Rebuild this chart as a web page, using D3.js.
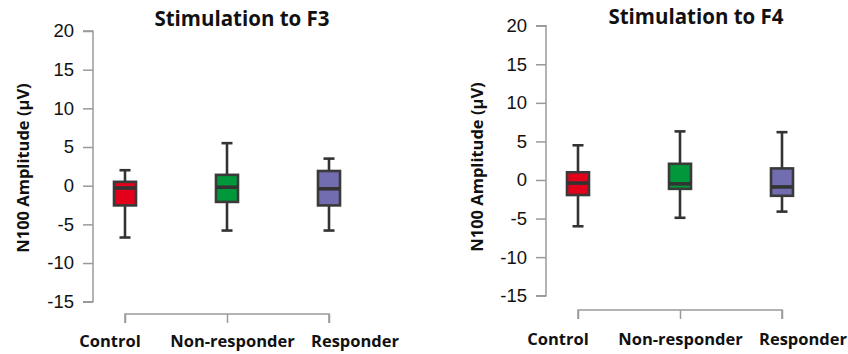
<!DOCTYPE html>
<html>
<head>
<meta charset="utf-8">
<script src="https://cdn.jsdelivr.net/npm/d3@7"></script>
<style>
  body { margin: 0; background: #fff; }
  svg { display: block; }
</style>
</head>
<body>
<div id="chart"></div>
<script>
// groups and y ticks
const groups = ["Control", "Non-responder", "Responder"];
const groupColors = ["#e2001a", "#00983a", "#716db0"];
const yTicks = [20, 15, 10, 5, 0, -5, -10, -15];

// Stimulation to F3: whisker low, Q1, median, Q3, whisker high
const f3Low    = [-6.7, -5.8, -5.8];
const f3Q1     = [-2.55, -2.1, -2.55];
const f3Median = [-0.3, -0.2, -0.4];
const f3Q3     = [0.5, 1.4, 1.9];
const f3High   = [2.0, 5.5, 3.5];

// Stimulation to F4
const f4Low    = [-6.0, -4.9, -4.1];
const f4Q1     = [-1.95, -1.15, -2.05];
const f4Median = [-0.4, -0.5, -0.9];
const f4Q3     = [1.0, 2.1, 1.5];
const f4High   = [4.5, 6.3, 6.2];

const svg = d3.select("#chart")
  .append("svg")
    .attr("width", 848)
    .attr("height", 354);

function drawPanel(opt) {
  const g = svg.append("g");

  const y = d3.scaleLinear()
    .domain([-15, 20])
    .range([opt.yBottom, opt.yTop]);

  const x = d3.scalePoint()
    .domain(groups)
    .range([opt.xFirst, opt.xLast]);

  // category labels sit a little wider apart than the ticks
  const xLabel = d3.scalePoint()
    .domain(groups)
    .range([opt.labelFirst, opt.labelLast]);

  // y axis
  const yAxis = g.append("g")
    .attr("transform", `translate(${opt.axisX},0)`)
    .call(d3.axisLeft(y).tickValues(yTicks).tickSize(10).tickPadding(9).tickFormat(d3.format("d")));
  yAxis.select(".domain")
    .attr("stroke", "#9a9a9a")
    .attr("stroke-width", 1.5)
    .attr("d", `M-10,${y(20)}H0V${y(-15)}H-10`);
  yAxis.selectAll(".tick line").attr("stroke", "#9a9a9a").attr("stroke-width", 1.5);
  yAxis.selectAll(".tick text")
    .attr("fill", "#111")
    .attr("font-family", "'Liberation Sans', Arial, sans-serif")
    .attr("font-size", "18.5px")
    .text(d => d < 0 ? "-" + Math.abs(d) : d);

  // x axis bracket
  const xAxis = g.append("g")
    .attr("transform", `translate(0,${opt.xAxisY})`)
    .call(d3.axisBottom(x).tickSizeInner(9).tickSizeOuter(0).tickFormat(""));
  xAxis.select(".domain")
    .attr("stroke", "#9a9a9a")
    .attr("stroke-width", 1.5)
    .attr("d", `M${opt.xFirst},9V0H${opt.xLast}V9`);
  xAxis.selectAll(".tick line").attr("stroke", "#9a9a9a").attr("stroke-width", 1.5);

  g.selectAll(".xlabel")
    .data(groups)
    .join("text")
      .attr("class", "xlabel")
      .attr("x", d => xLabel(d))
      .attr("y", opt.labelBaseline)
      .attr("text-anchor", "middle")
      .attr("fill", "#111")
      .attr("font-family", "'Open Sans', sans-serif")
      .attr("font-weight", "bold")
      .attr("font-size", "16.5px")
      .text(d => d);

  const boxData = groups.map((d, i) => ({
    group: d,
    color: groupColors[i],
    low: opt.low[i], q1: opt.q1[i], median: opt.median[i], q3: opt.q3[i], high: opt.high[i]
  }));

  const boxW = 22, capW = 11;
  const box = g.selectAll(".box")
    .data(boxData)
    .join("g")
      .attr("class", "box");

  // whiskers
  box.append("line")
    .attr("x1", d => x(d.group)).attr("x2", d => x(d.group))
    .attr("y1", d => y(d.high)).attr("y2", d => y(d.low))
    .attr("stroke", "#333").attr("stroke-width", 2.6);
  box.selectAll(".cap")
    .data(d => [d.low, d.high].map(v => ({group: d.group, v: v})))
    .join("line")
      .attr("class", "cap")
      .attr("x1", d => x(d.group) - capW / 2).attr("x2", d => x(d.group) + capW / 2)
      .attr("y1", d => y(d.v)).attr("y2", d => y(d.v))
      .attr("stroke", "#333").attr("stroke-width", 2.6);

  // box
  box.append("rect")
    .attr("x", d => x(d.group) - boxW / 2)
    .attr("y", d => y(d.q3))
    .attr("width", boxW)
    .attr("height", d => y(d.q1) - y(d.q3))
    .attr("fill", d => d.color)
    .attr("stroke", "#3a3a3a")
    .attr("stroke-width", 2.6);

  // median
  box.append("line")
    .attr("x1", d => x(d.group) - boxW / 2).attr("x2", d => x(d.group) + boxW / 2)
    .attr("y1", d => y(d.median)).attr("y2", d => y(d.median))
    .attr("stroke", "#333").attr("stroke-width", 3.6);

  // title
  g.append("text")
    .attr("x", opt.titleX)
    .attr("y", opt.titleY)
    .attr("text-anchor", "middle")
    .attr("font-family", "'Open Sans', sans-serif")
    .attr("font-weight", "bold")
    .attr("font-size", "20.5px")
    .attr("fill", "#111")
    .text(opt.title);

  // y label
  g.append("text")
    .attr("transform", `translate(${opt.yLabelX},${opt.yLabelY})rotate(-90)`)
    .attr("text-anchor", "middle")
    .attr("font-family", "'Open Sans', sans-serif")
    .attr("font-weight", "bold")
    .attr("font-size", "16.5px")
    .attr("fill", "#111")
    .text("N100 Amplitude (µV)");
}

drawPanel({
  title: "Stimulation to F3",
  low: f3Low, q1: f3Q1, median: f3Median, q3: f3Q3, high: f3High,
  axisX: 93, yTop: 31, yBottom: 301.7,
  xFirst: 125, xLast: 329, xAxisY: 314,
  labelFirst: 110, labelLast: 355, labelBaseline: 347,
  titleX: 242, titleY: 26, yLabelX: 29, yLabelY: 168
});

drawPanel({
  title: "Stimulation to F4",
  low: f4Low, q1: f4Q1, median: f4Median, q3: f4Q3, high: f4High,
  axisX: 546, yTop: 25.7, yBottom: 295.7,
  xFirst: 578, xLast: 782, xAxisY: 310,
  labelFirst: 558, labelLast: 803, labelBaseline: 345,
  titleX: 696, titleY: 24, yLabelX: 483, yLabelY: 167
});
</script>
</body>
</html>
